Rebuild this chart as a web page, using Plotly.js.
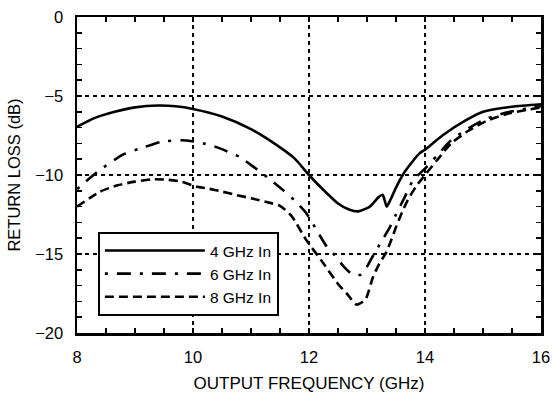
<!DOCTYPE html>
<html><head><meta charset="utf-8">
<script src="https://cdn.plot.ly/plotly-3.0.1.min.js"></script>
<style>html,body{margin:0;padding:0;background:#fff}#chart{width:552px;height:395px}</style>
</head><body><div id="chart"></div>
<script>
const seriesNames = ["4 GHz In", "6 GHz In", "8 GHz In"];
const x4 = [8.0, 8.3, 8.65, 9.0, 9.4, 9.7, 10.0, 10.5, 11.0, 11.4, 11.75, 12.0, 12.25, 12.5, 12.7, 12.85, 13.05, 13.2, 13.27, 13.34, 13.4, 13.5, 13.65, 13.9, 14.0, 14.3, 14.7, 15.0, 15.5, 16.0];
const y4 = [-6.95, -6.4, -6.0, -5.72, -5.6, -5.65, -5.82, -6.3, -7.1, -8.0, -8.95, -10.0, -10.95, -11.8, -12.2, -12.3, -12.0, -11.4, -11.25, -12.0, -11.6, -10.8, -9.8, -8.65, -8.4, -7.5, -6.55, -6.0, -5.68, -5.52];
const x6 = [8.0, 8.35, 8.8, 9.15, 9.45, 9.8, 10.1, 10.45, 10.8, 11.05, 11.3, 11.55, 11.75, 11.95, 12.15, 12.3, 12.45, 12.6, 12.75, 12.9, 13.0, 13.12, 13.25, 13.38, 13.5, 13.65, 13.8, 14.0, 14.2, 14.45, 14.75, 15.05, 15.4, 15.75, 16.0];
const y6 = [-10.9, -9.8, -8.7, -8.25, -7.9, -7.8, -7.92, -8.3, -8.85, -9.5, -10.2, -10.95, -11.6, -12.4, -13.6, -14.5, -15.1, -15.8, -16.3, -16.3, -15.8, -15.0, -14.2, -13.4, -12.5, -11.4, -10.3, -9.6, -8.8, -7.8, -7.05, -6.45, -6.05, -5.8, -5.65];
const x8 = [8.0, 8.4, 8.7, 9.0, 9.3, 9.55, 9.8, 10.05, 10.25, 10.5, 10.75, 11.0, 11.25, 11.5, 11.7, 11.95, 12.25, 12.5, 12.65, 12.82, 12.97, 13.1, 13.2, 13.33, 13.42, 13.5, 13.6, 13.7, 13.85, 14.0, 14.2, 14.45, 14.75, 15.05, 15.4, 15.75, 16.0];
const y8 = [-12.0, -11.05, -10.65, -10.42, -10.27, -10.3, -10.42, -10.72, -10.85, -11.05, -11.27, -11.47, -11.7, -11.95, -12.6, -14.1, -15.6, -16.9, -17.5, -18.2, -17.9, -16.5, -15.7, -14.9, -14.1, -13.3, -12.4, -11.6, -10.7, -10.0, -9.1, -8.0, -7.2, -6.6, -6.15, -5.88, -5.72];
const xTicks = [8, 10, 12, 14, 16];
const yTicks = [-20, -15, -10, -5, 0];
const xMinorStep = 0.5;
const yMinorStep = 1;

const fam = "Liberation Sans, Arial, sans-serif";
const tickFont = {family: fam, size: 16.5, color: "#000"};
const legendFont = {family: fam, size: 15.5, color: "#000"};
const traces = [
  {x: x4, y: y4, name: seriesNames[0], mode: "lines", line: {color: "#000", width: 2.6, shape: "spline", smoothing: 0.6}},
  {x: x6, y: y6, name: seriesNames[1], mode: "lines", line: {color: "#000", width: 2.6, dash: "3px,9px,14px,9px", shape: "spline", smoothing: 0.6}},
  {x: x8, y: y8, name: seriesNames[2], mode: "lines", line: {color: "#000", width: 2.6, dash: "9px,5px", shape: "spline", smoothing: 0.6}}
];
const axisCommon = {
  showline: true, linecolor: "#000", linewidth: 2.5, mirror: "ticks",
  tickmode: "linear", ticks: "inside", ticklen: 5, tickwidth: 1.5, tickcolor: "#000",
  showgrid: true, gridcolor: "#000", gridwidth: 1.5, griddash: "4px,4px",
  zeroline: false, tickfont: tickFont
};
const layout = {
  width: 552, height: 395,
  margin: {l: 77, r: 11, t: 17, b: 62},
  paper_bgcolor: "#fff", plot_bgcolor: "#fff",
  font: tickFont,
  showlegend: true,
  legend: {x: 0.045, y: 0.32, xanchor: "left", yanchor: "top", bgcolor: "#fff",
           bordercolor: "#000", borderwidth: 2, font: legendFont, itemwidth: 100,
           tracegroupgap: 0},
  xaxis: Object.assign({}, axisCommon, {
    range: [xTicks[0], xTicks[xTicks.length - 1]], tick0: xTicks[0], dtick: xTicks[1] - xTicks[0],
    minor: {dtick: xMinorStep, tick0: xTicks[0], ticks: "inside", ticklen: 5, tickcolor: "#000", tickwidth: 1.5, showgrid: false},
    ticklabelstandoff: 8,
    title: {text: "OUTPUT FREQUENCY (GHz)", font: {family: fam, size: 17, color: "#000"}, standoff: 12}
  }),
  yaxis: Object.assign({}, axisCommon, {
    range: [yTicks[0], yTicks[yTicks.length - 1]], tick0: yTicks[0], dtick: yTicks[1] - yTicks[0],
    minor: {dtick: yMinorStep, tick0: yTicks[0], ticks: "inside", ticklen: 5, tickcolor: "#000", tickwidth: 1.5, showgrid: false},
    ticklabelstandoff: 8,
    title: {text: "RETURN LOSS (dB)", font: {family: fam, size: 16.5, color: "#000"}, standoff: 11}
  })
};
Plotly.newPlot("chart", traces, layout, {staticPlot: true, displayModeBar: false});
</script></body></html>
